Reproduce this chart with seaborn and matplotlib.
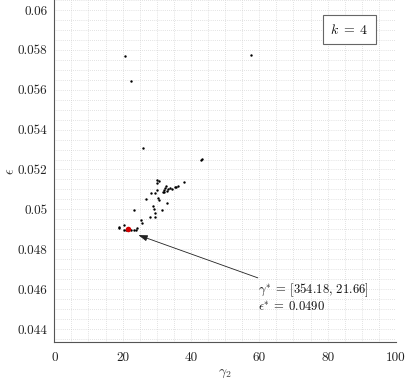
import matplotlib
matplotlib.use("Agg")
import matplotlib.pyplot as plt
import seaborn as sns
import pandas as pd
from matplotlib.ticker import MultipleLocator, FuncFormatter

gamma2 = [30.0, 30.5, 30.0, 29.5, 28.4, 30.2, 26.8, 30.4, 30.6, 31.9, 32.2, 32.5,
          32.8, 33.2, 33.8, 34.3, 35.2, 35.7, 36.2, 37.9, 32.9, 31.5, 29.0, 29.3,
          29.5, 29.4, 28.0, 23.3, 25.3, 25.6, 24.1, 19.0, 19.0, 20.5, 20.3, 21.0,
          22.5, 23.2, 23.8, 32.0, 33.0, 20.8, 57.5, 22.4, 26.0, 42.9, 43.1]
eps = [0.05148, 0.05144, 0.05132, 0.05082, 0.05080, 0.05095, 0.05050, 0.05058,
       0.05046, 0.05088, 0.05098, 0.05108, 0.05115, 0.05100, 0.05105, 0.05100,
       0.05110, 0.05112, 0.05116, 0.05135, 0.05033, 0.04998, 0.05018, 0.05002,
       0.04982, 0.04962, 0.04962, 0.04998, 0.04945, 0.04930, 0.04907, 0.04912,
       0.04905, 0.04922, 0.04898, 0.04897, 0.04898, 0.04899, 0.04898, 0.05085,
       0.05090, 0.05771, 0.05774, 0.05642, 0.05306, 0.05247, 0.05252]
best_gamma2 = [21.66]
best_eps = [0.0490]
x_ticks = [0, 20, 40, 60, 80, 100]
y_ticks = [0.044, 0.046, 0.048, 0.05, 0.052, 0.054, 0.056, 0.058, 0.06]

sns.set_theme(style="white")
plt.rcParams['font.family'] = ['cmr10', 'DejaVu Serif']
plt.rcParams['mathtext.fontset'] = 'cm'
plt.rcParams['axes.formatter.use_mathtext'] = True
plt.rcParams['axes.unicode_minus'] = False

df = pd.DataFrame({"g": gamma2, "e": eps})
dfb = pd.DataFrame({"g": best_gamma2, "e": best_eps})

fig = plt.figure(figsize=(4.07, 3.84), dpi=100)
ax = fig.add_axes([0.1334, 0.1094, 0.8396, 0.8906])

sns.scatterplot(data=df, x="g", y="e", ax=ax, color="black", s=3, linewidth=0, zorder=3)
sns.scatterplot(data=dfb, x="g", y="e", ax=ax, color="#d40000", s=16, linewidth=0, zorder=4)

ax.set_xlim(0, 100)
ax.set_ylim(0.04335, 0.0605)
ax.set_xticks(x_ticks)
ax.set_yticks(y_ticks)
ax.xaxis.set_minor_locator(MultipleLocator(5))
ax.yaxis.set_minor_locator(MultipleLocator(0.0005))
ax.xaxis.set_major_formatter(FuncFormatter(lambda v, p: "%g" % v))
ax.yaxis.set_major_formatter(FuncFormatter(lambda v, p: "%g" % round(v, 4)))

ax.grid(True, which="both", linestyle=(0, (1, 2)), linewidth=0.5, color="#c8c8c8")
ax.set_axisbelow(True)
for s in ["top", "right"]:
    ax.spines[s].set_visible(False)
for s in ["left", "bottom"]:
    ax.spines[s].set_color("#555555")
    ax.spines[s].set_linewidth(0.8)

ax.tick_params(axis="both", which="major", direction="out", length=3, width=0.6,
               color="#555555", labelsize=9.5, labelcolor="#222222", pad=2)
ax.tick_params(axis="both", which="minor", length=0)
ax.tick_params(axis="x", pad=4)

ax.set_xlabel(r"$\gamma_2$", fontsize=10, color="#333333", labelpad=3)
ax.set_ylabel(r"$\epsilon$", fontsize=10, color="#333333", labelpad=0)

ax.annotate(r"$\gamma^{*} \:=\: [354.18,\,21.66]$" + "\n" + r"$\epsilon^{*} \:=\: 0.0490$",
            xy=(24.6, 0.04871), xytext=(59.6, 0.04557), ha="left", va="center",
            fontsize=9.1, color="#111111", linespacing=1.1,
            arrowprops=dict(arrowstyle="-|>,head_length=0.6,head_width=0.2",
                            color="#222222", lw=0.6, shrinkA=1, shrinkB=0))

ax.text(86.4, 0.05901, r"$k \;=\; 4$", ha="center", va="center", fontsize=10,
        color="#111111",
        bbox=dict(boxstyle="square,pad=0.55", facecolor="white", edgecolor="#666666", linewidth=0.8))

fig.savefig("out.png", dpi=100)
